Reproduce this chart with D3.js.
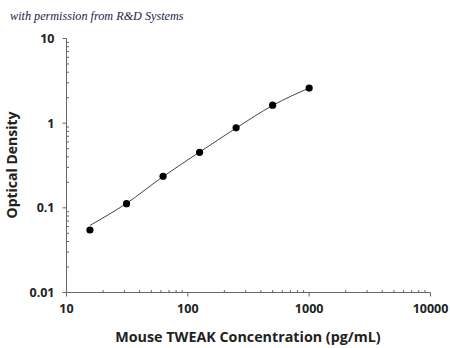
<!DOCTYPE html>
<html><head><meta charset="utf-8">
<script src="https://cdn.jsdelivr.net/npm/d3@7"></script>
<style>body{margin:0;background:#fff}svg{display:block}</style>
</head><body>
<svg id="c" width="450" height="348"></svg>
<script>
const concentrations = [15.6, 31.25, 62.5, 125, 250, 500, 1000];
const opticalDensity = [0.0547, 0.112, 0.236, 0.452, 0.881, 1.63, 2.60];
const fitCurve = [0.062, 0.113, 0.234, 0.455, 0.875, 1.62, 2.60];
const xTicks = [10, 100, 1000, 10000];
const yTicks = [0.01, 0.1, 1, 10];
const yTickLabels = ["0.01", "0.1", "1", "10"];

const svg = d3.select("#c");
const x = d3.scaleLog().domain([10, 10000]).range([66.5, 430.5]);
const y = d3.scaleLog().domain([0.01, 10]).range([292.5, 38.5]);
const axisColor = "#666";
const font = "'Open Sans', sans-serif";

// watermark
svg.append("text").attr("x", 10).attr("y", 20)
  .attr("font-family", "'Liberation Serif', serif").attr("font-style", "italic")
  .attr("font-size", 12.2).attr("fill", "#1c1c4c")
  .text("with permission from R&D Systems");

function minors(dom) {
  const out = [];
  for (let d = dom[0]; d < dom[1]; d *= 10) for (let k = 2; k <= 9; k++) out.push(d * k);
  return out;
}

// x axis
const gx = svg.append("g").attr("transform", "translate(0,292.5)");
gx.append("line").attr("x1", x(10)).attr("x2", x(10000)).attr("stroke", axisColor);
gx.selectAll(".mj").data(xTicks).join("line")
  .attr("x1", d => x(d)).attr("x2", d => x(d)).attr("y1", 0).attr("y2", 4).attr("stroke", axisColor);
gx.selectAll(".mn").data(minors([10, 10000])).join("line").attr("class", "mn")
  .attr("x1", d => x(d)).attr("x2", d => x(d)).attr("y1", 0).attr("y2", -2.5).attr("stroke", axisColor);
gx.selectAll("text").data(xTicks).join("text")
  .attr("x", d => x(d)).attr("y", 20).attr("text-anchor", "middle")
  .attr("font-family", font).attr("font-weight", 700).attr("font-size", 12.5).attr("fill", "#222")
  .text(d => d);

// y axis
const gy = svg.append("g").attr("transform", "translate(66.5,0)");
gy.append("line").attr("y1", y(0.01)).attr("y2", y(10)).attr("stroke", axisColor);
gy.selectAll(".mj").data(yTicks).join("line")
  .attr("y1", d => y(d)).attr("y2", d => y(d)).attr("x1", 0).attr("x2", -4).attr("stroke", axisColor);
gy.selectAll(".mn").data(minors([0.01, 10])).join("line").attr("class", "mn")
  .attr("y1", d => y(d)).attr("y2", d => y(d)).attr("x1", 0).attr("x2", 2.5).attr("stroke", axisColor);
gy.selectAll("text").data(yTicks).join("text")
  .attr("x", -12).attr("y", d => y(d) + 4.5).attr("text-anchor", "end")
  .attr("font-family", font).attr("font-weight", 700).attr("font-size", 12.5).attr("fill", "#222")
  .text((d, i) => yTickLabels[i]);

// titles
svg.append("text").attr("x", 248).attr("y", 342).attr("text-anchor", "middle")
  .attr("font-family", font).attr("font-weight", 700).attr("font-size", 14.3).attr("fill", "#222")
  .text("Mouse TWEAK Concentration (pg/mL)");
svg.append("text").attr("transform", "translate(16.5,165) rotate(-90)").attr("text-anchor", "middle")
  .attr("font-family", font).attr("font-weight", 700).attr("font-size", 14).attr("fill", "#222")
  .text("Optical Density");

// fit curve
const line = d3.line().x((d, i) => x(concentrations[i])).y(d => y(d)).curve(d3.curveMonotoneX);
svg.append("path").attr("d", line(fitCurve)).attr("fill", "none").attr("stroke", "#444").attr("stroke-width", 1);

// points
svg.selectAll("circle").data(opticalDensity).join("circle")
  .attr("cx", (d, i) => x(concentrations[i])).attr("cy", d => y(d)).attr("r", 3.6).attr("fill", "#000");
</script>
</body></html>
